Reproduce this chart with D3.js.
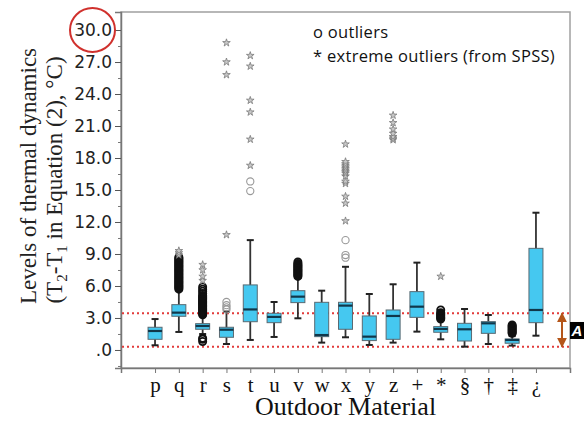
<!DOCTYPE html>
<html>
<head>
<meta charset="utf-8">
<script src="https://cdn.jsdelivr.net/npm/d3@7"></script>
<style>
  body { margin: 0; background: #fff; }
</style>
</head>
<body>
<script>
// categories along the x axis
var materials = ["p","q","r","s","t","u","v","w","x","y","z","+","*","§","†","‡","¿"];

// five-number summaries (whisker low, Q1, median, Q3, whisker high)
var whiskerLow  = [0.44, 1.69, 1.5, 0.56, 0.94, 1.22, 2.97, 0.69, 1.19, 0.47, 0.69, 1.72, 1.0, 0.31, 0.56, 0.41, 1.34];
var q1          = [1.0, 3.16, 1.94, 1.19, 2.65, 2.56, 4.44, 1.25, 1.94, 0.88, 1.0, 3.06, 1.66, 0.84, 1.56, 0.63, 2.56];
var medians     = [1.78, 3.5, 2.25, 1.9, 3.8, 3.1, 5.0, 1.4, 4.16, 1.25, 3.19, 4.06, 1.97, 1.94, 2.5, 0.94, 3.75];
var q3          = [2.13, 4.25, 2.47, 2.13, 6.1, 3.44, 5.56, 4.47, 4.47, 3.19, 3.75, 5.47, 2.19, 2.5, 2.66, 1.03, 9.53];
var whiskerHigh = [2.9, 5.6, 3.2, 3.6, 10.3, 4.5, 6.75, 5.56, 7.8, 5.25, 6.16, 8.19, 2.9, 3.84, 3.28, 1.3, 12.87];

// outliers (circles) per category
var outliers = {
  q: [5.7,5.8,5.9,6.0,6.1,6.2,6.3,6.4,6.5,6.6,6.7,6.8,6.9,7.0,7.1,7.2,7.3,7.4,7.5,7.6,7.7,7.8,7.9,8.0,8.1,8.2,8.3,8.4,8.5,8.6,8.7],
  r: [0.8,1.0,1.1,3.3,3.4,3.5,3.6,3.7,3.8,3.9,4.0,4.1,4.2,4.3,4.4,4.5,4.6,4.7,4.8,4.9,5.0,5.1,5.3,5.5,5.7,5.9],
  s: [3.8,4.0,4.2,4.5],
  t: [14.9,15.8],
  v: [6.9,7.0,7.1,7.2,7.3,7.4,7.5,7.6,7.7,7.8,7.9,8.0,8.1,8.25],
  x: [8.65,8.9,10.3],
  "*": [2.9,3.0,3.1,3.2,3.3,3.4,3.5,3.75],
  "‡": [1.56,1.65,1.75,1.85,1.95,2.05,2.15,2.25,2.34]
};

// extreme outliers (stars) per category
var extremes = {
  q: [8.9,9.1,9.3],
  r: [6.5,6.9,7.5,8.0],
  s: [10.8,25.8,27.0,28.8],
  t: [17.3,19.75,22.3,23.4,26.6,27.6],
  x: [12.1,13.75,14.4,15.6,15.8,16.3,16.56,16.7,16.85,17.0,17.15,17.3,17.45,17.65,19.3],
  z: [19.7,19.85,20.0,20.3,20.7,21.3,22.0],
  "*": [6.9]
};

var yTicks = [0,3,6,9,12,15,18,21,24,27,30];
var refLines = [3.45, 0.3];

var width = 584, height = 422;
var mLeft = 121, mRight = 570, mTop = 12, mBottom = 368;

var svg = d3.select("body").append("svg")
    .attr("width", width)
    .attr("height", height);

var y = d3.scaleLinear().domain([-1.69, 31.69]).range([mBottom, mTop]);
var x = d3.scalePoint().domain(materials).range([mLeft, mRight]).padding(1.43);

// frame
svg.append("rect")
    .attr("x", mLeft).attr("y", mTop)
    .attr("width", mRight - mLeft).attr("height", mBottom - mTop)
    .attr("fill", "none").attr("stroke", "#a0a0a0").attr("stroke-width", 1.5);

// y axis
var fmt = function(d){ return d3.format(".1f")(d).replace(/^0\./, "."); };
var yAxis = svg.append("g")
    .attr("transform", "translate(" + mLeft + ",0)")
    .call(d3.axisLeft(y).tickValues(yTicks).tickFormat(fmt).tickSize(6).tickPadding(3));
yAxis.select(".domain").attr("stroke", "#777").attr("stroke-width", 1.5);
yAxis.selectAll(".tick line").attr("stroke", "#555");
yAxis.selectAll("text")
    .attr("font-family", "DejaVu Sans")
    .attr("font-size", 17)
    .attr("fill", "#222");

// minor ticks
svg.append("g")
    .attr("transform", "translate(" + mLeft + ",0)")
    .call(d3.axisLeft(y).tickValues(d3.range(1.5, 31, 3).concat([-1.5])).tickFormat("").tickSize(3))
    .call(function(g){ g.select(".domain").remove(); g.selectAll("line").attr("stroke", "#777"); });

// x axis
var xAxis = svg.append("g")
    .attr("transform", "translate(0," + mBottom + ")")
    .call(d3.axisBottom(x).tickSize(5).tickPadding(4));
xAxis.select(".domain").attr("stroke", "#777").attr("stroke-width", 1.5);
xAxis.selectAll(".tick line").attr("stroke", "#777");
xAxis.selectAll("text")
    .attr("font-family", "Liberation Serif")
    .attr("font-size", 21)
    .attr("fill", "#111");

// red circle around the 30.0 label
svg.append("ellipse")
    .attr("cx", 92.5).attr("cy", y(30))
    .attr("rx", 22.5).attr("ry", 22)
    .attr("fill", "none").attr("stroke", "#d0312d").attr("stroke-width", 2);

// reference dotted lines
svg.selectAll(".ref").data(refLines).enter().append("line")
    .attr("x1", mLeft + 1).attr("x2", mRight - 1)
    .attr("y1", function(d){ return y(d); })
    .attr("y2", function(d){ return y(d); })
    .attr("stroke", "#e23b3b").attr("stroke-width", 2)
    .attr("stroke-dasharray", "2,3");

// boxes
var boxW = 14, capW = 7;
var g = svg.selectAll(".box").data(materials).enter().append("g");

g.append("line")
    .attr("x1", function(d){ return x(d); }).attr("x2", function(d){ return x(d); })
    .attr("y1", function(d,i){ return y(whiskerLow[i]); })
    .attr("y2", function(d,i){ return y(whiskerHigh[i]); })
    .attr("stroke", "#333").attr("stroke-width", 1.8);
g.append("line")
    .attr("x1", function(d){ return x(d) - capW/2; }).attr("x2", function(d){ return x(d) + capW/2; })
    .attr("y1", function(d,i){ return y(whiskerLow[i]); })
    .attr("y2", function(d,i){ return y(whiskerLow[i]); })
    .attr("stroke", "#222").attr("stroke-width", 2);
g.append("line")
    .attr("x1", function(d){ return x(d) - capW/2; }).attr("x2", function(d){ return x(d) + capW/2; })
    .attr("y1", function(d,i){ return y(whiskerHigh[i]); })
    .attr("y2", function(d,i){ return y(whiskerHigh[i]); })
    .attr("stroke", "#222").attr("stroke-width", 2);
g.append("rect")
    .attr("x", function(d){ return x(d) - boxW/2; })
    .attr("width", boxW)
    .attr("y", function(d,i){ return y(q3[i]); })
    .attr("height", function(d,i){ return y(q1[i]) - y(q3[i]); })
    .attr("fill", "#45c8f0").attr("stroke", "#5a6a72").attr("stroke-width", 1);
g.append("line")
    .attr("x1", function(d){ return x(d) - boxW/2; }).attr("x2", function(d){ return x(d) + boxW/2; })
    .attr("y1", function(d,i){ return y(medians[i]); })
    .attr("y2", function(d,i){ return y(medians[i]); })
    .attr("stroke", "#10374a").attr("stroke-width", 2.2);

// outlier circles
var outPts = [];
materials.forEach(function(m){
  (outliers[m] || []).forEach(function(v){ outPts.push({m: m, v: v, dense: outliers[m].length > 5}); });
});
svg.selectAll(".out").data(outPts).enter().append("circle")
    .attr("cx", function(d){ return x(d.m); })
    .attr("cy", function(d){ return y(d.v); })
    .attr("r", 3.6)
    .attr("fill", "none")
    .attr("stroke", function(d){ return d.dense ? "#111" : "#999"; })
    .attr("stroke-width", function(d){ return d.dense ? 1.8 : 1.1; });

// extreme outliers
var extPts = [];
materials.forEach(function(m){
  (extremes[m] || []).forEach(function(v){ extPts.push({m: m, v: v}); });
});
var star = d3.symbol().type(d3.symbolStar).size(18);
svg.selectAll(".ext").data(extPts).enter().append("path")
    .attr("d", star)
    .attr("transform", function(d){ return "translate(" + x(d.m) + "," + y(d.v) + ")"; })
    .attr("fill", "#c8c8c8")
    .attr("stroke", "#7a7a7a")
    .attr("stroke-width", 0.8);

// legend
svg.append("text").attr("x", 313).attr("y", 38)
    .attr("font-family", "Open Sans").attr("font-size", 16.5).attr("letter-spacing", 0.3).attr("fill", "#111")
    .text("o outliers");
svg.append("text").attr("x", 313).attr("y", 62)
    .attr("font-family", "Open Sans").attr("font-size", 16.5).attr("letter-spacing", 0.3).attr("fill", "#111")
    .text("* extreme outliers (from SPSS)");

// double arrow and "A" marker
var ax = 562;
svg.append("defs").append("marker")
    .attr("id", "ah").attr("viewBox", "0 0 10 10")
    .attr("refX", 9).attr("refY", 5)
    .attr("markerWidth", 5).attr("markerHeight", 5)
    .attr("orient", "auto-start-reverse")
  .append("path").attr("d", "M0,0 L10,5 L0,10 z").attr("fill", "#b5561a");
svg.append("line")
    .attr("x1", ax).attr("x2", ax)
    .attr("y1", y(refLines[0])).attr("y2", y(refLines[1]))
    .attr("stroke", "#b5561a").attr("stroke-width", 2)
    .attr("marker-start", "url(#ah)").attr("marker-end", "url(#ah)");
var aMid = (y(refLines[0]) + y(refLines[1])) / 2;
svg.append("rect")
    .attr("x", 570).attr("y", aMid - 8)
    .attr("width", 14).attr("height", 17)
    .attr("fill", "#000");
svg.append("text")
    .attr("x", 577).attr("y", aMid + 6)
    .attr("text-anchor", "middle")
    .attr("font-family", "Liberation Sans").attr("font-weight", "bold").attr("font-style", "italic")
    .attr("font-size", 15).attr("fill", "#fff")
    .text("A");

// axis titles
svg.append("text")
    .attr("transform", "translate(36,176) rotate(-90)")
    .attr("text-anchor", "middle")
    .attr("font-family", "Liberation Serif").attr("font-size", 23).attr("fill", "#222")
    .text("Levels of thermal dynamics");
var t2 = svg.append("text")
    .attr("transform", "translate(62,180) rotate(-90)")
    .attr("text-anchor", "middle")
    .attr("font-family", "Liberation Serif").attr("font-size", 23).attr("fill", "#222");
t2.append("tspan").text("(T");
t2.append("tspan").attr("font-size", 15).attr("dy", 5).text("2");
t2.append("tspan").attr("dy", -5).text("-T");
t2.append("tspan").attr("font-size", 15).attr("dy", 5).text("1");
t2.append("tspan").attr("dy", -5).text(" in Equation (2), °C)");

svg.append("text")
    .attr("x", (mLeft + mRight) / 2).attr("y", 415)
    .attr("text-anchor", "middle")
    .attr("font-family", "Liberation Serif").attr("font-size", 26).attr("fill", "#111")
    .text("Outdoor Material");
</script>
</body>
</html>
